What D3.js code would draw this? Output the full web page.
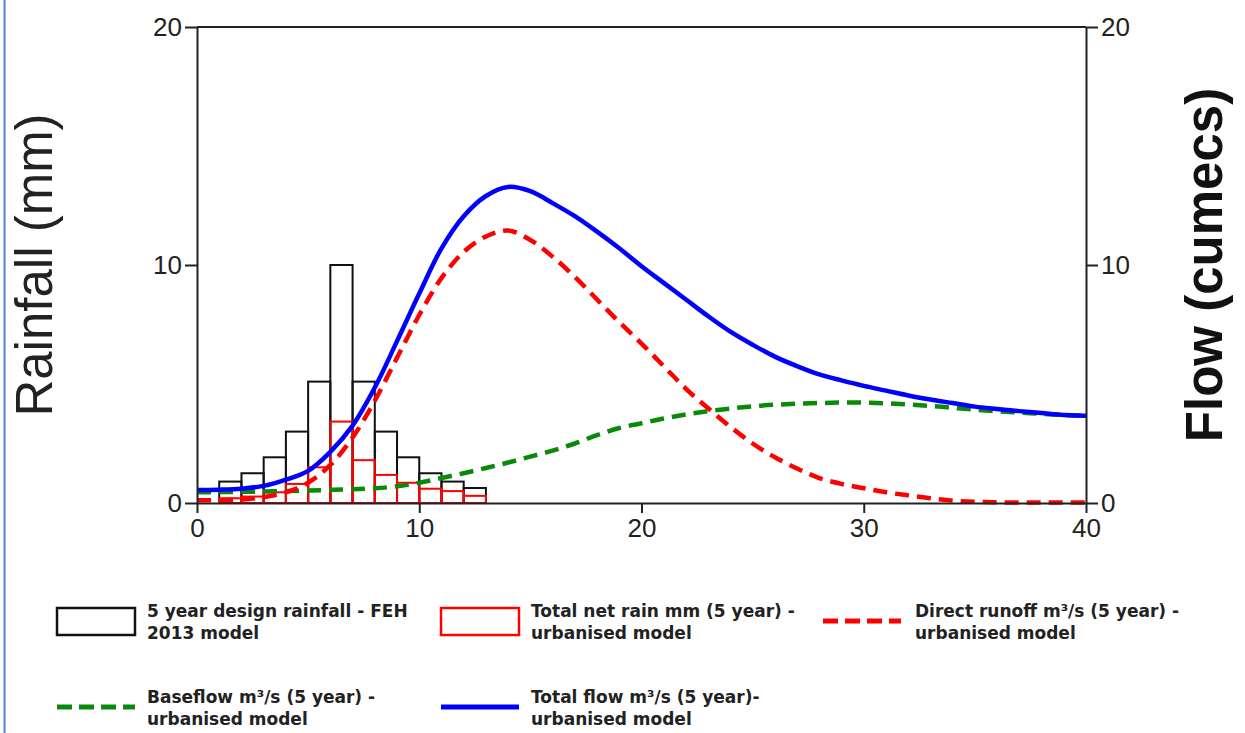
<!DOCTYPE html>
<html>
<head>
<meta charset="utf-8">
<script src="https://cdnjs.cloudflare.com/ajax/libs/d3/7.8.5/d3.min.js"></script>
<style>
  body { margin: 0; background: #fff; }
  .tick text { font-family: "Liberation Sans", Arial, sans-serif; font-size: 26px; fill: #222; }
  .legend text { font-family: "DejaVu Sans", Verdana, sans-serif; font-size: 17px; font-weight: bold; fill: #222; }
</style>
</head>
<body>
<div id="chart"></div>
<script>
// rainfall bars (start hour of each 1h block)
const barStart = [1, 2, 3, 4, 5, 6, 7, 8, 9, 10, 11, 12];
const designRain = [0.9, 1.25, 1.92, 3.0, 5.1, 10.0, 5.1, 3.0, 1.92, 1.25, 0.9, 0.63];
const netRain = [0.2, 0.27, 0.45, 0.8, 1.5, 3.42, 1.8, 1.18, 0.85, 0.6, 0.5, 0.3];

// flow series, hourly 0..40
const hours = d3.range(0, 41);
const directRunoff = [0.12, 0.12, 0.15, 0.25, 0.45, 0.85, 1.6, 2.75, 4.3, 6.1, 7.9, 9.45, 10.55, 11.2, 11.45, 11.05, 10.35, 9.5, 8.55, 7.6,
  6.7, 5.75, 4.8, 3.98, 3.2, 2.5, 1.92, 1.45, 1.05, 0.8, 0.62, 0.45, 0.32, 0.2, 0.1, 0.05, 0.03, 0.02, 0.02, 0.02, 0.02];
const baseflow = [0.45, 0.46, 0.47, 0.48, 0.5, 0.52, 0.55, 0.58, 0.62, 0.7, 0.85, 1.05, 1.25, 1.47, 1.7, 1.95, 2.2, 2.5, 2.85, 3.15,
  3.35, 3.55, 3.72, 3.86, 3.97, 4.06, 4.13, 4.17, 4.2, 4.22, 4.22, 4.19, 4.14, 4.08, 4.0, 3.92, 3.85, 3.8, 3.75, 3.7, 3.67];
const totalFlow = [0.55, 0.56, 0.6, 0.72, 0.98, 1.35, 2.15, 3.25, 4.85, 6.8, 8.8, 10.7, 12.05, 12.9, 13.28, 13.1, 12.6, 12.05, 11.4, 10.7,
  9.95, 9.25, 8.55, 7.85, 7.2, 6.65, 6.15, 5.75, 5.4, 5.15, 4.92, 4.72, 4.52, 4.35, 4.2, 4.05, 3.95, 3.86, 3.78, 3.7, 3.67];

const xTicks = [0, 10, 20, 30, 40];
const yTicks = [0, 10, 20];

const legendLabels = [
  ["5 year design rainfall - FEH", "2013 model"],
  ["Total net rain mm (5 year) -", "urbanised model"],
  ["Direct runoff m\u00b3/s (5 year) -", "urbanised model"],
  ["Baseflow m\u00b3/s (5 year) -", "urbanised model"],
  ["Total flow m\u00b3/s (5 year)-", "urbanised model"]
];

const W = 1245, H = 733;
const margin = { top: 27, right: 159, bottom: 230, left: 197 };
const width = W - margin.left - margin.right;
const height = H - margin.top - margin.bottom;

const root = d3.select("#chart").append("svg")
  .attr("width", W)
  .attr("height", H);

// blue frame edge on the left of the screenshot
root.append("line")
  .attr("x1", 4.5).attr("x2", 4.5).attr("y1", 0).attr("y2", H)
  .attr("stroke", "#5b80d8").attr("stroke-width", 2);

const svg = root.append("g")
  .attr("transform", `translate(${margin.left},${margin.top})`);

const x = d3.scaleLinear().domain([0, 40]).range([0, width]);
const yRain = d3.scaleLinear().domain([0, 20]).range([height, 0]);
const yFlow = d3.scaleLinear().domain([0, 20]).range([height, 0]);

// bars
svg.selectAll(".rain").data(barStart).enter().append("rect")
  .attr("class", "rain")
  .attr("x", d => x(d))
  .attr("width", d => x(d + 1) - x(d))
  .attr("y", (d, i) => yRain(designRain[i]))
  .attr("height", (d, i) => height - yRain(designRain[i]))
  .attr("fill", "none").attr("stroke", "#111").attr("stroke-width", 2);

svg.selectAll(".net").data(barStart).enter().append("rect")
  .attr("class", "net")
  .attr("x", d => x(d))
  .attr("width", d => x(d + 1) - x(d))
  .attr("y", (d, i) => yRain(netRain[i]))
  .attr("height", (d, i) => height - yRain(netRain[i]))
  .attr("fill", "none").attr("stroke", "#ff0000").attr("stroke-width", 2);

// lines
const line = d3.line()
  .x((d, i) => x(hours[i]))
  .y(d => yFlow(Math.max(0, d)))
  .curve(d3.curveCatmullRom.alpha(0.5));

svg.append("path").datum(baseflow)
  .attr("d", line).attr("fill", "none")
  .attr("stroke", "#0a8a0a").attr("stroke-width", 4.5).attr("stroke-dasharray", "14,8");

svg.append("path").datum(directRunoff)
  .attr("d", line).attr("fill", "none")
  .attr("stroke", "#ff0000").attr("stroke-width", 4.5).attr("stroke-dasharray", "14,8");

svg.append("path").datum(totalFlow)
  .attr("d", line).attr("fill", "none")
  .attr("stroke", "#0000ff").attr("stroke-width", 4.5);

// axes / frame
const styleAxis = g => {
  g.select(".domain").attr("stroke", "#222").attr("stroke-width", 2);
  g.selectAll(".tick line").attr("stroke", "#222").attr("stroke-width", 2);
};

svg.append("g")
  .attr("transform", `translate(0,${height})`)
  .call(d3.axisBottom(x).tickValues(xTicks).tickSize(10).tickSizeOuter(0).tickPadding(6))
  .call(styleAxis);

svg.append("g")
  .call(d3.axisLeft(yRain).tickValues(yTicks).tickSize(12).tickSizeOuter(0).tickPadding(3))
  .call(styleAxis);

svg.append("g")
  .attr("transform", `translate(${width},0)`)
  .call(d3.axisRight(yFlow).tickValues(yTicks).tickSize(12).tickSizeOuter(0).tickPadding(3))
  .call(styleAxis);

svg.append("line")
  .attr("x1", 0).attr("x2", width).attr("y1", 0).attr("y2", 0)
  .attr("stroke", "#222").attr("stroke-width", 2);

// axis titles
root.append("text")
  .attr("transform", `translate(52,${margin.top + height / 2}) rotate(-90)`)
  .attr("text-anchor", "middle")
  .style("font-family", "Liberation Sans, Arial, sans-serif")
  .style("font-size", "51px")
  .style("fill", "#222")
  .text("Rainfall (mm)");

root.append("text")
  .attr("transform", `translate(1222,${margin.top + height / 2}) rotate(-90)`)
  .attr("text-anchor", "middle")
  .style("font-family", "Liberation Sans, Arial, sans-serif")
  .style("font-size", "51px")
  .style("font-weight", "bold")
  .style("fill", "#111")
  .text("Flow (cumecs)");

// legend
const legendPos = [[57, 621], [441, 621], [823, 621], [57, 707], [441, 707]];
const legend = root.append("g").attr("class", "legend");

legendLabels.forEach((lines, i) => {
  const [lx, ly] = legendPos[i];
  const g = legend.append("g").attr("transform", `translate(${lx},${ly})`);
  if (i === 0 || i === 1) {
    g.append("rect").attr("x", 0).attr("y", -13).attr("width", 78).attr("height", 27)
      .attr("fill", "none").attr("stroke", i === 0 ? "#111" : "#ff0000").attr("stroke-width", 2.5);
  } else {
    const color = i === 2 ? "#ff0000" : i === 3 ? "#0a8a0a" : "#0000ff";
    g.append("line").attr("x1", 0).attr("x2", 78).attr("y1", 0).attr("y2", 0)
      .attr("stroke", color).attr("stroke-width", 5)
      .attr("stroke-dasharray", i === 4 ? null : "15,7");
  }
  const tx = i === 2 ? 92 : 90;
  g.append("text").attr("x", tx).attr("y", -4).text(lines[0]);
  g.append("text").attr("x", tx).attr("y", 18).text(lines[1]);
});
</script>
</body>
</html>
